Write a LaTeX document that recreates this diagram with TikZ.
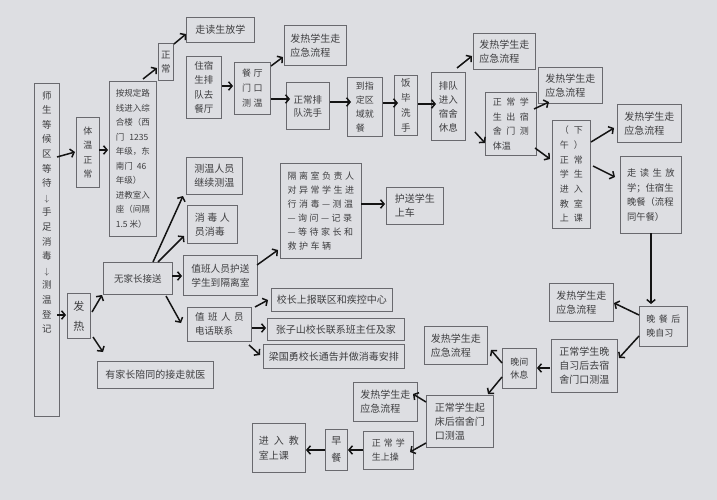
\documentclass[tikz,border=0pt]{standalone}
\usepackage{fontspec}
\newfontfamily\cjk{Noto Sans CJK SC}
\usetikzlibrary{arrows.meta}
\definecolor{paper}{RGB}{221,222,226}
\definecolor{boxc}{RGB}{105,105,110}
\definecolor{txtc}{RGB}{62,62,64}
\newcommand\zhf[2]{\cjk\fontsize{#1}{#2}\selectfont}
\begin{document}
\begin{tikzpicture}[x=1pt,y=-1pt,
  box/.style={draw=boxc,line width=0.8pt,anchor=north west,inner sep=1pt,text=txtc,align=left,font=\zhf{10}{14}},
  arr/.style={line width=1.5pt,draw=black!92,-{Straight Barb[length=3.5pt,width=8.5pt]}}]
\fill[paper] (0,0) rectangle (717,500);
\useasboundingbox (0,0) rectangle (717,500);

% left column
\node[box,minimum width=25pt,minimum height=333pt] (L) at (34,83) {};
\node[anchor=north,inner sep=0pt,text=txtc,align=center,font=\zhf{9.5}{14.6}] (Lt) at ([shift={(0,8)}]L.north) {师\\生\\等\\候\\区\\等\\待\\$\downarrow$\\手\\足\\消\\毒\\$\downarrow$\\测\\温\\登\\记};
\node[box,minimum width=23pt,minimum height=70pt,font=\zhf{9}{14.5}] (TZ) at (76,117) {体\\温\\正\\常};
\node[box,minimum width=47pt,minimum height=155pt,font=\zhf{8.5}{14.5}] (AG) at (109,81) {按规定路\\线进入综\\合楼（西\\门\hspace{5pt}1235\\年级，东\\南门\hspace{4pt}46\\年级）\\进教室入\\座（间隔\\1.5 米）};
\node[box,minimum width=15pt,minimum height=37pt,font=\zhf{9.5}{14}] (ZC) at (158,43) {正\\常};
\node[box,minimum width=68pt,minimum height=25pt] (ZD) at (186,17) {走读生放学};
\node[box,minimum width=35pt,minimum height=62pt,font=\zhf{9.5}{14.3}] (ZS) at (186,56) {住宿\\生排\\队去\\餐厅};
\node[box,minimum width=36pt,minimum height=52pt,font={\zhf{9}{15}\spaceskip=2.5pt\relax}] (CT) at (234,62) {餐 厅\\门 口\\测 温};
\node[box,minimum width=62pt,minimum height=40pt] (F1) at (284,25) {发热学生走\\应急流程};
\node[box,minimum width=43pt,minimum height=47pt,font=\zhf{9.5}{13}] (PX) at (286,82) {正常排\\队洗手};
\node[box,minimum width=35pt,minimum height=59pt,font=\zhf{9}{14}] (JC) at (347,77) {到指\\定区\\域就\\餐};
\node[box,minimum width=23pt,minimum height=60pt,font=\zhf{9.5}{14.8}] (FB) at (394,75) {饭\\毕\\洗\\手};
\node[box,minimum width=34pt,minimum height=68pt,font=\zhf{9.5}{14}] (PD) at (431,72) {排队\\进入\\宿舍\\休息};
\node[box,minimum width=62pt,minimum height=36pt] (F2) at (473,33) {发热学生走\\应急流程};
\node[box,minimum width=51pt,minimum height=63pt,font={\zhf{9}{14.5}\spaceskip=4.5pt\relax}] (CS) at (485,92) {正 常 学\\生 出 宿\\舍 门 测\\体温};
\node[box,minimum width=64pt,minimum height=36pt] (F3) at (538,67) {发热学生走\\应急流程};
\node[box,minimum width=38pt,minimum height=108pt,font={\zhf{9}{14.7}\spaceskip=5pt\relax}] (XW) at (552,120) {（ 下\\午 ）\\正 常\\学 生\\进 入\\教 室\\上 课};
\node[box,minimum width=64pt,minimum height=38pt] (F4) at (617,104) {发热学生走\\应急流程};
\node[box,minimum width=61pt,minimum height=77pt,font={\zhf{9.3}{14.5}\spaceskip=3.5pt\relax}] (ZW) at (620,156) {走 读 生 放\\学；住宿生\\晚餐（流程\\同午餐）};
\node[box,minimum width=48pt,minimum height=40pt,font={\zhf{9}{14}\spaceskip=3.5pt\relax}] (WC) at (639,306) {晚 餐 后\\晚自习};
\node[box,minimum width=64pt,minimum height=38pt] (F5) at (549,283) {发热学生走\\应急流程};
\node[box,minimum width=66pt,minimum height=53pt] (WZ) at (551,339) {正常学生晚\\自习后去宿\\舍门口测温};
\node[box,minimum width=34pt,minimum height=40pt,font=\zhf{9}{13.5}] (WJ) at (502,348) {晚间\\休息};
\node[box,minimum width=63pt,minimum height=38pt] (F6) at (424,326) {发热学生走\\应急流程};
\node[box,minimum width=67pt,minimum height=52pt] (QC) at (426,395) {正常学生起\\床后宿舍门\\口测温};
\node[box,minimum width=64pt,minimum height=39pt] (F7) at (353,382) {发热学生走\\应急流程};
\node[box,minimum width=50pt,minimum height=38pt,font={\zhf{9}{14}\spaceskip=3pt\relax}] (SC) at (363,431) {正 常 学\\生上操};
\node[box,minimum width=22pt,minimum height=41pt,font=\zhf{10}{17}] (ZCn) at (325,429) {早\\餐};
\node[box,minimum width=53pt,minimum height=49pt,font={\zhf{10}{15}\spaceskip=5pt\relax}] (JS) at (252,423) {进 入 教\\室上课};

% lower-left branch
\node[box,minimum width=23pt,minimum height=45pt,font=\zhf{11}{20}] (FR) at (67,293) {发\\热};
\node[box,minimum width=69pt,minimum height=32pt,font=\zhf{9.5}{14}] (WJZ) at (103,262) {无家长接送};
\node[box,minimum width=116pt,minimum height=27pt] (YJZ) at (97,361) {有家长陪同的接走就医};
\node[box,minimum width=56pt,minimum height=37pt] (CW) at (186,157) {测温人员\\继续测温};
\node[box,minimum width=50pt,minimum height=38pt,font={\zhf{10}{14}\spaceskip=2.5pt\relax}] (XD) at (187,205) {消 毒 人\\员消毒};
\node[box,minimum width=74pt,minimum height=40pt,font=\zhf{9.7}{14}] (ZB) at (183,255) {值班人员护送\\学生到隔离室};
\node[box,minimum width=81pt,minimum height=95pt,font={\zhf{9}{14}\spaceskip=2.5pt\relax}] (GL) at (280,163) {隔 离 室 负 责 人\\对 异 常 学 生 进\\行 消 毒 — 测 温\\— 询 问 — 记 录\\— 等 待 家 长 和\\救 护 车 辆};
\node[box,minimum width=57pt,minimum height=37pt] (HS) at (386,187) {护送学生\\上车};
\node[box,minimum width=64pt,minimum height=34pt,font={\zhf{9.5}{14}\spaceskip=3.5pt\relax}] (DH) at (187,307) {值 班 人 员\\电话联系};
\node[box,minimum width=121pt,minimum height=23pt] (XZ) at (271,288) {校长上报联区和疾控中心};
\node[box,minimum width=137pt,minimum height=22pt] (ZZS) at (267,318) {张子山校长联系班主任及家};
\node[box,minimum width=141pt,minimum height=24pt] (LGY) at (263,344) {梁国勇校长通告并做消毒安排};

% connectors
\draw[arr] ([shift={(23,74)}]L.north west) -- ([shift={(-1,35)}]TZ.north west);
\draw[arr] ([shift={(23,33)}]TZ.north west) -- ([shift={(-1,69)}]AG.north west);
\draw[arr] ([shift={(34,-2)}]AG.north west) -- ([shift={(-1,25)}]ZC.north west);
\draw[arr] ([shift={(16,1)}]ZC.north west) -- ([shift={(0,17)}]ZD.north west);
\draw[arr] ([shift={(36,30)}]ZS.north west) -- ([shift={(-1,24)}]CT.north west);
\draw[arr] ([shift={(37,4)}]CT.north west) -- ([shift={(-1,32)}]F1.north west);
\draw[arr] ([shift={(37,37)}]CT.north west) -- ([shift={(4,17)}]PX.north west);
\draw[arr] ([shift={(44,20)}]PX.north west) -- ([shift={(4,25)}]JC.north west);
\draw[arr] ([shift={(36,26)}]JC.north west) -- ([shift={(4,28)}]FB.north west);
\draw[arr] ([shift={(24,29)}]FB.north west) -- ([shift={(5,32)}]PD.north west);
\draw[arr] ([shift={(26,-4)}]PD.north west) -- ([shift={(-1,23)}]F2.north west);
\draw[arr] ([shift={(44,60)}]PD.north west) -- ([shift={(0,51)}]CS.north west);
\draw[arr] ([shift={(49,17)}]CS.north west) -- ([shift={(11,35)}]F3.north west);
\draw[arr] ([shift={(50,56)}]CS.north west) -- ([shift={(-2,39)}]XW.north west);
\draw[arr] ([shift={(39,22)}]XW.north west) -- ([shift={(-3,24)}]F4.north west);
\draw[arr] ([shift={(41,46)}]XW.north west) -- ([shift={(-5,21)}]ZW.north west);
\draw[arr] ([shift={(31,77)}]ZW.north west) -- ([shift={(12,-2)}]WC.north west);
\draw[arr] ([shift={(0,9)}]WC.north west) -- ([shift={(65,20)}]F5.north west);
\draw[arr] ([shift={(0,30)}]WC.north west) -- ([shift={(68,19)}]WZ.north west);
\draw[arr] ([shift={(-1,29)}]WZ.north west) -- ([shift={(35,20)}]WJ.north west);
\draw[arr] ([shift={(0,15)}]WJ.north west) -- ([shift={(67,24)}]F6.north west);
\draw[arr] ([shift={(0,29)}]WJ.north west) -- ([shift={(62,-1)}]QC.north west);
\draw[arr] ([shift={(0,7)}]QC.north west) -- ([shift={(60,12)}]F7.north west);
\draw[arr] ([shift={(0,48)}]QC.north west) -- ([shift={(47,21)}]SC.north west);
\draw[arr] ([shift={(0,19)}]SC.north west) -- ([shift={(23,21)}]ZCn.north west);
\draw[arr] ([shift={(0,21)}]ZCn.north west) -- ([shift={(54,27)}]JS.north west);
\draw[arr] ([shift={(23,232)}]L.north west) -- ([shift={(-1,22)}]FR.north west);
\draw[arr] ([shift={(25,19)}]FR.north west) -- ([shift={(-1,33)}]WJZ.north west);
\draw[arr] ([shift={(26,44)}]FR.north west) -- ([shift={(6,-9)}]YJZ.north west);
\draw[arr] ([shift={(50,0)}]WJZ.north west) -- ([shift={(-3,39)}]CW.north west);
\draw[arr] ([shift={(55,0)}]WJZ.north west) -- ([shift={(-3,31)}]XD.north west);
\draw[arr] ([shift={(69,14)}]WJZ.north west) -- ([shift={(-1,21)}]ZB.north west);
\draw[arr] ([shift={(74,10)}]ZB.north west) -- ([shift={(-2,87)}]GL.north west);
\draw[arr] ([shift={(81,41)}]GL.north west) -- ([shift={(-1,17)}]HS.north west);
\draw[arr] ([shift={(63,34)}]WJZ.north west) -- ([shift={(-6,16)}]DH.north west);
\draw[arr] ([shift={(68,0)}]DH.north west) -- ([shift={(-3,12)}]XZ.north west);
\draw[arr] ([shift={(65,21)}]DH.north west) -- ([shift={(-1,10)}]ZZS.north west);
\draw[arr] ([shift={(62,38)}]DH.north west) -- ([shift={(-3,11)}]LGY.north west);
\end{tikzpicture}
\end{document}
